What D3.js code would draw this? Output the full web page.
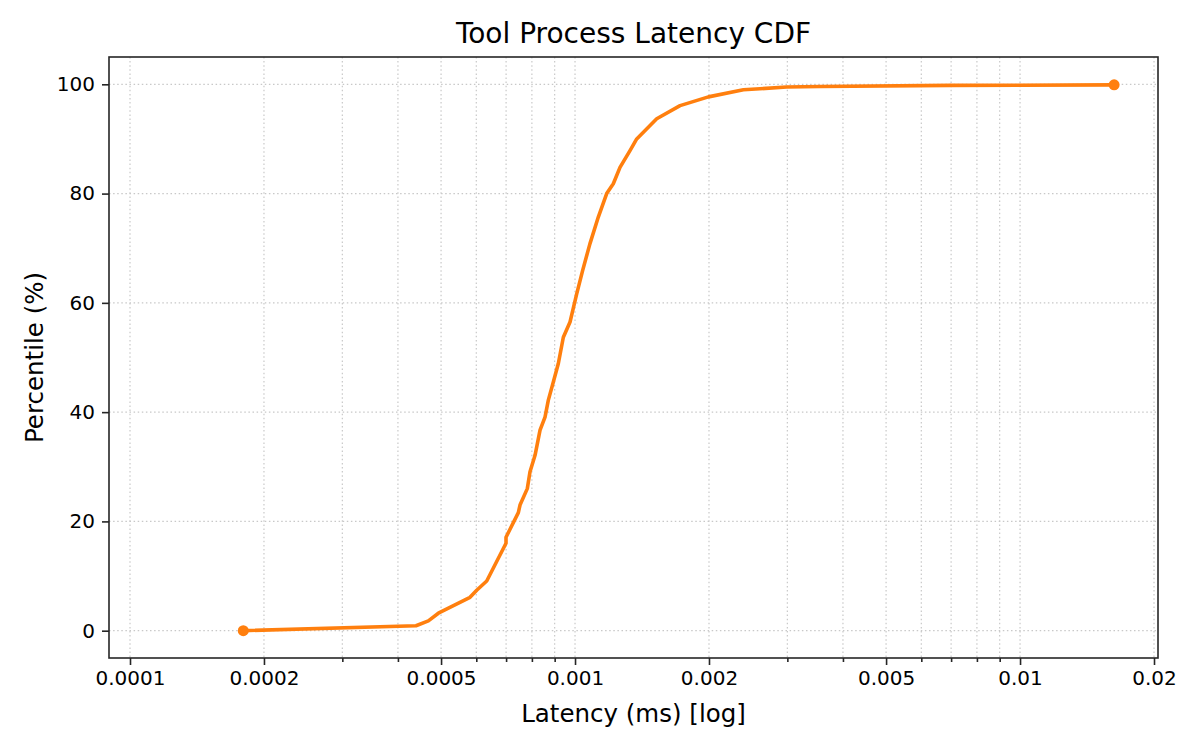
<!DOCTYPE html>
<html>
<head>
<meta charset="utf-8">
<script src="https://cdn.jsdelivr.net/npm/d3@7"></script>
<style>
    body { margin: 0; background: #fff; }
    svg { font-family: "DejaVu Sans", sans-serif; }
</style>
</head>
<body>
<svg width="1200" height="750"></svg>
<script>
/*
=============
Global
=============
*/

// latency (ms) and percentile
var latency = [
    0.0001797, 0.0004392, 0.0004682, 0.0004931, 0.0005808, 0.0006013, 0.0006333,
    0.0006997, 0.0006997, 0.0007458, 0.0007523, 0.0007812, 0.0007922, 0.0008131,
    0.0008344, 0.0008562, 0.000871, 0.0008938, 0.0009173, 0.0009413, 0.0009745,
    0.001009, 0.00104, 0.00108, 0.001128, 0.001178, 0.001219, 0.001262, 0.00133,
    0.001376, 0.001526, 0.001722, 0.001994, 0.00239, 0.00299, 0.003553, 0.00696,
    0.01627
];
var percentile = [
    0, 0.9, 1.8, 3.2, 6.1, 7.4, 9.1,
    16.0, 17.1, 21.6, 23.0, 26.0, 29.1, 32.1,
    36.7, 39.1, 42.2, 45.5, 48.9, 53.7, 56.5,
    61.7, 65.9, 70.8, 75.7, 80.0, 81.8, 84.8, 87.9,
    90.0, 93.7, 96.1, 97.7, 99.0, 99.5, 99.6, 99.8,
    99.9
];

var xTicks = [0.0001, 0.0002, 0.0005, 0.001, 0.002, 0.005, 0.01, 0.02];
var xTickLabels = ["0.0001", "0.0002", "0.0005", "0.001", "0.002", "0.005", "0.01", "0.02"];
var yTicks = [0, 20, 40, 60, 80, 100];

/*
=============
Document Loaded
=============
*/
window.addEventListener("DOMContentLoaded", function () {
    displayChart();
});

function displayChart() {
    var svg = d3.select("svg"),
        left = 109, right = 1158, top = 57, bottom = 658,
        lineColor = "#ff7f0e",
        gridColor = "#c8c8c8",
        axisColor = "#262626";

    var x = d3.scaleLog()
        .domain([Math.pow(10, -4.0472), Math.pow(10, -1.690)])
        .range([left, right]);

    var y = d3.scaleLinear()
        .domain([-5, 105])
        .range([bottom, top]);

    // minor ticks: every 1..9 of each decade inside the domain
    var minorTicks = [];
    [-4, -3, -2].forEach(function (e) {
        for (var m = 1; m <= 9; m++) {
            var v = m * Math.pow(10, e);
            if (v >= x.domain()[0] && v <= x.domain()[1]) minorTicks.push(v);
        }
    });

    // Grid
    svg.append("g")
        .selectAll("line")
        .data(minorTicks)
        .enter()
        .append("line")
        .attr("x1", function(d) { return x(d); })
        .attr("x2", function(d) { return x(d); })
        .attr("y1", top)
        .attr("y2", bottom)
        .attr("stroke", gridColor)
        .attr("stroke-width", 1.2)
        .attr("stroke-dasharray", "1.5,2.6");

    svg.append("g")
        .selectAll("line")
        .data(yTicks)
        .enter()
        .append("line")
        .attr("x1", left)
        .attr("x2", right)
        .attr("y1", function(d) { return y(d); })
        .attr("y2", function(d) { return y(d); })
        .attr("stroke", gridColor)
        .attr("stroke-width", 1.2)
        .attr("stroke-dasharray", "1.5,2.6");

    // X axis
    var xAxis = svg.append("g")
        .attr("transform", "translate(0," + bottom + ")")
        .call(d3.axisBottom(x)
            .tickValues(xTicks)
            .tickFormat(function(d, i) { return xTickLabels[i]; })
            .tickSize(7)
            .tickPadding(6));

    svg.append("g")
        .attr("transform", "translate(0," + bottom + ")")
        .call(d3.axisBottom(x)
            .tickValues(minorTicks.filter(function(d) {
                return xTicks.every(function(t) { return Math.abs(t - d) / t > 1e-6; });
            }))
            .tickFormat("")
            .tickSize(4))
        .select(".domain").remove();

    // Y axis
    var yAxis = svg.append("g")
        .attr("transform", "translate(" + left + ",0)")
        .call(d3.axisLeft(y)
            .tickValues(yTicks)
            .tickSize(7)
            .tickPadding(7));

    svg.selectAll(".domain").remove();
    svg.selectAll(".tick line").attr("stroke", axisColor).attr("stroke-width", 1.6);
    xAxis.selectAll("text").attr("font-size", "20px").attr("fill", "#000")
        .attr("font-family", "DejaVu Sans");
    yAxis.selectAll("text").attr("font-size", "20px").attr("fill", "#000")
        .attr("font-family", "DejaVu Sans");

    // frame
    svg.append("rect")
        .attr("x", left)
        .attr("y", top)
        .attr("width", right - left)
        .attr("height", bottom - top)
        .attr("fill", "none")
        .attr("stroke", axisColor)
        .attr("stroke-width", 1.6);

    // Line
    var pts = latency.map(function(d, i) { return [d, percentile[i]]; });

    svg.append("path")
        .datum(pts)
        .attr("fill", "none")
        .attr("stroke", lineColor)
        .attr("stroke-width", 3.6)
        .attr("stroke-linejoin", "round")
        .attr("d", d3.line()
            .x(function(d) { return x(d[0]); })
            .y(function(d) { return y(d[1]); }));

    svg.selectAll(".endpoint")
        .data([pts[0], pts[pts.length - 1]])
        .enter()
        .append("circle")
        .attr("cx", function(d) { return x(d[0]); })
        .attr("cy", function(d) { return y(d[1]); })
        .attr("r", 5.5)
        .attr("fill", lineColor);

    // Labels
    svg.append("text")
        .attr("x", (left + right) / 2)
        .attr("y", 43)
        .attr("text-anchor", "middle")
        .attr("font-size", "28px")
        .text("Tool Process Latency CDF");

    svg.append("text")
        .attr("x", (left + right) / 2)
        .attr("y", 722)
        .attr("text-anchor", "middle")
        .attr("font-size", "24.5px")
        .text("Latency (ms) [log]");

    svg.append("text")
        .attr("transform", "translate(43," + (top + bottom) / 2 + ")rotate(-90)")
        .attr("text-anchor", "middle")
        .attr("font-size", "24.5px")
        .text("Percentile (%)");
}
</script>
</body>
</html>
